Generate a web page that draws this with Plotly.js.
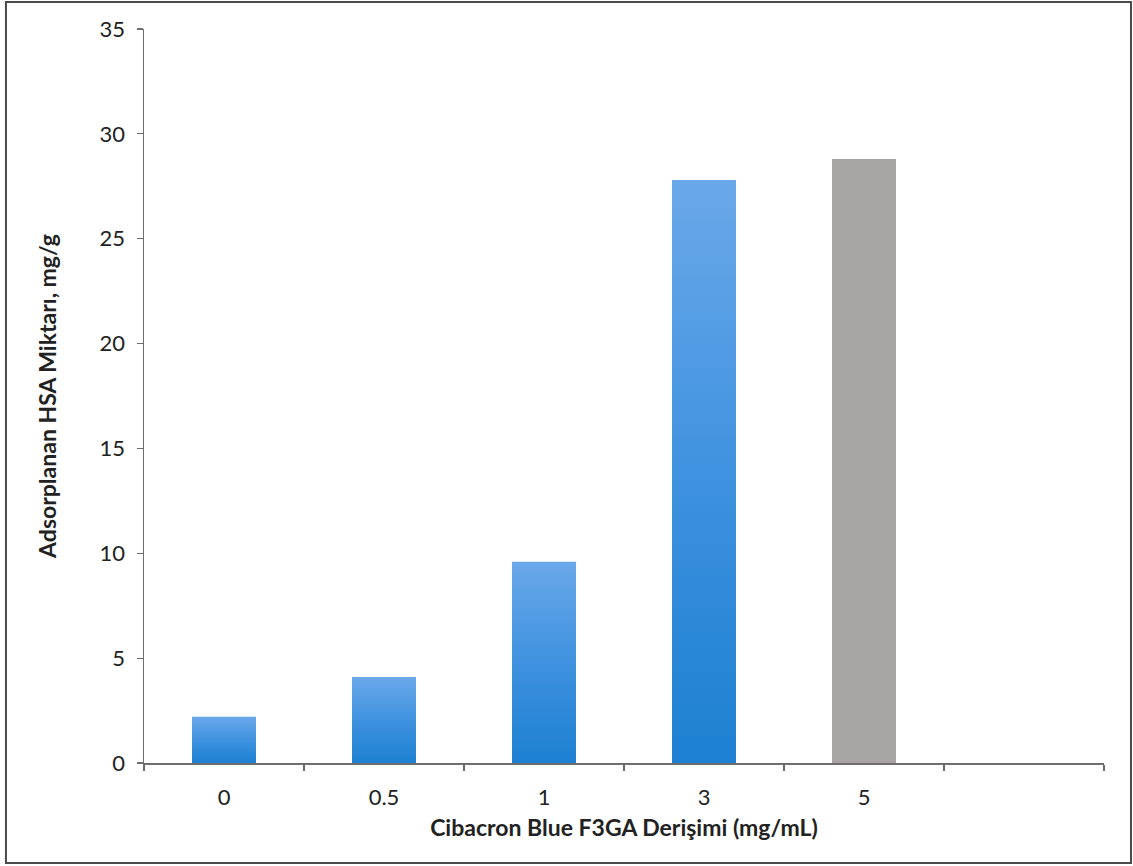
<!DOCTYPE html>
<html>
<head>
<meta charset="utf-8">
<script src="https://cdn.plot.ly/plotly-3.0.1.min.js"></script>
<style>
  html, body { margin: 0; padding: 0; background: #ffffff; }
  #chart { width: 1133px; height: 866px; }
</style>
</head>
<body>
<div id="chart"></div>
<script>
// Cibacron Blue F3GA concentration (mg/mL) and adsorbed HSA (mg/g)
const categories = ["0", "0.5", "1", "3", "5"];
const adsorbed = [2.2, 4.1, 9.6, 27.8, 28.8];
const barColors = ["#3d92df", "#3d92df", "#3d92df", "#3d92df", "#a8a4a1"];
// an extra empty slot on the right of the category axis
const axisSlots = categories.concat([" "]);
const yTicks = [0, 5, 10, 15, 20, 25, 30, 35];

const fontFamily = "Lato, 'Open Sans', sans-serif";
const axisColor = "#6e6e6e";
const textColor = "#222222";

const trace = {
  type: "bar",
  x: categories,
  y: adsorbed,
  marker: { color: barColors, line: { width: 0 } },
  width: 0.4,
  hoverinfo: "x+y"
};

const layout = {
  width: 1133,
  height: 866,
  paper_bgcolor: "#ffffff",
  plot_bgcolor: "#ffffff",
  margin: { l: 144, r: 29, t: 29, b: 103 },
  showlegend: false,
  font: { family: fontFamily, color: textColor },
  xaxis: {
    type: "category",
    categoryorder: "array",
    categoryarray: axisSlots,
    range: [-0.5, 5.5],
    tickson: "boundaries",
    ticks: "outside",
    ticklen: 6,
    tickwidth: 1.2,
    tickcolor: axisColor,
    showline: true,
    linecolor: axisColor,
    linewidth: 1.5,
    showgrid: false,
    zeroline: false,
    ticklabelstandoff: 14,
    tickfont: { family: fontFamily, size: 22, color: textColor },
    title: {
      text: "Cibacron Blue F3GA Derişimi (mg/mL)",
      font: { family: fontFamily, size: 23, color: textColor, weight: "bold" },
      standoff: 11
    },
    fixedrange: true
  },
  yaxis: {
    range: [0, 35],
    tickvals: yTicks,
    ticktext: yTicks.map(String),
    ticks: "outside",
    ticklen: 6,
    tickwidth: 1.2,
    tickcolor: axisColor,
    showline: true,
    linecolor: axisColor,
    linewidth: 1.5,
    showgrid: false,
    zeroline: false,
    ticklabelstandoff: 7,
    tickfont: { family: fontFamily, size: 22, color: textColor },
    title: {
      text: "Adsorplanan HSA Miktarı, mg/g",
      font: { family: fontFamily, size: 23, color: textColor, weight: "bold" },
      standoff: 36
    },
    fixedrange: true
  },
  shapes: [
    {
      // frame around the whole chart
      type: "rect", xref: "paper", yref: "paper",
      x0: -0.1438, x1: 1.0281, y0: -0.1362, y1: 1.0368,
      line: { color: "#4a4a4a", width: 2 },
      fillcolor: "rgba(0,0,0,0)",
      layer: "below"
    }
  ]
};

Plotly.newPlot("chart", [trace], layout, { displayModeBar: false, staticPlot: true }).then(function (gd) {
  // vertical light-to-dark gradient on the blue bars
  const svg = gd.querySelector("svg.main-svg");
  const ns = "http://www.w3.org/2000/svg";
  let defs = svg.querySelector("defs");
  if (!defs) { defs = document.createElementNS(ns, "defs"); svg.insertBefore(defs, svg.firstChild); }
  const grad = document.createElementNS(ns, "linearGradient");
  grad.setAttribute("id", "blueBarFill");
  grad.setAttribute("x1", "0"); grad.setAttribute("y1", "0");
  grad.setAttribute("x2", "0"); grad.setAttribute("y2", "1");
  [["0", "#6aa8ea"], ["0.5", "#3f92df"], ["1", "#1d80d2"]].forEach(function (s) {
    const stop = document.createElementNS(ns, "stop");
    stop.setAttribute("offset", s[0]);
    stop.setAttribute("stop-color", s[1]);
    grad.appendChild(stop);
  });
  defs.appendChild(grad);
  const bars = gd.querySelectorAll(".barlayer .point path");
  bars.forEach(function (p, i) {
    if (barColors[i] === "#3d92df") p.style.fill = "url(#blueBarFill)";
  });
});
</script>
</body>
</html>
